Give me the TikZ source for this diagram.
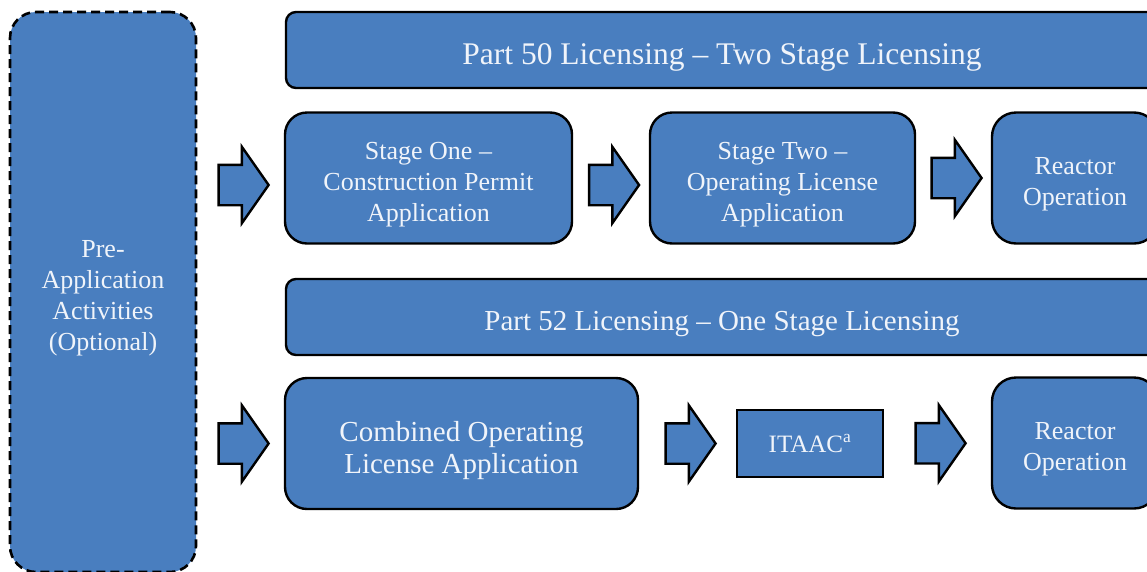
\documentclass[tikz,border=0pt]{standalone}
\usepackage{fontspec}
\setmainfont{Liberation Serif}
\usetikzlibrary{shapes.arrows,calc}
\definecolor{nrcblue}{RGB}{73,126,191}
\definecolor{nrctext}{RGB}{240,244,250}
\newcommand{\lift}{\rule{0pt}{1.15em}}
\begin{document}
\begin{tikzpicture}[x=1pt,y=-1pt,
  box/.style={draw=black,line width=2.4pt,fill=nrcblue,text=nrctext,align=center,inner sep=0pt,
    font=\fontsize{26}{31}\selectfont},
  stagebox/.style={box,rounded corners=22pt,minimum height=131pt},
  banner/.style={box,rounded corners=10pt,minimum width=872pt,minimum height=76pt},
  blockarr/.style={single arrow,draw=black,line width=2.4pt,fill=nrcblue,inner xsep=0pt,inner ysep=19pt,xshift=-4pt,
    minimum height=50pt,minimum width=74pt,single arrow head extend=18pt,single arrow tip angle=110}]
  \clip (0,0) rectangle (1147,571);
  \node[box,line width=2.6pt,dash pattern=on 9pt off 5pt,rounded corners=26pt,minimum width=186pt,minimum height=560pt] (pre) at (103,292)
    {\lift Pre-\\Application\\Activities\\(Optional)};
  \node[banner,font=\fontsize{31.5}{36}\selectfont] (part50) at (722,50) {\lift Part 50 Licensing – Two Stage Licensing};
  \node[stagebox,minimum width=287pt] (s1) at (428.5,178) {\lift Stage One –\\Construction Permit\\Application};
  \node[stagebox,minimum width=265pt] (s2) at (782.5,178) {\lift Stage Two –\\Operating License\\Application};
  \node[stagebox,minimum width=166pt,rounded corners=24pt] (op1) at (1075,178) {\lift Reactor\\Operation};
  \node[banner,font=\fontsize{29}{34}\selectfont] (part52) at (722,317) {\lift Part 52 Licensing – One Stage Licensing};
  \node[stagebox,minimum width=353pt,font=\fontsize{29}{32}\selectfont] (col) at (461.5,443.5) {\lift Combined Operating\\License Application};
  \node[box,minimum width=146pt,minimum height=67pt,font=\fontsize{25}{30}\selectfont] (itaac) at (810,443.5) {ITAAC\textsuperscript{a}};
  \node[stagebox,minimum width=166pt,rounded corners=24pt] (op2) at (1075,443) {\lift Reactor\\Operation};
  \node[blockarr,yshift=-7pt] (a1) at ($(pre.east |- s1.west)!.5!(s1.west)$) {};
  \node[blockarr,yshift=-7pt] (a2) at ($(s1.east)!.5!(s2.west)$) {};
  \node[blockarr] (a3) at ($(s2.east)!.5!(op1.west)$) {};
  \node[blockarr] (a4) at ($(pre.east |- col.west)!.5!(col.west)$) {};
  \node[blockarr] (a5) at ($(col.east)!.5!(itaac.west)$) {};
  \node[blockarr] (a6) at ($(itaac.east)!.5!(op2.west)$) {};
\end{tikzpicture}
\end{document}
